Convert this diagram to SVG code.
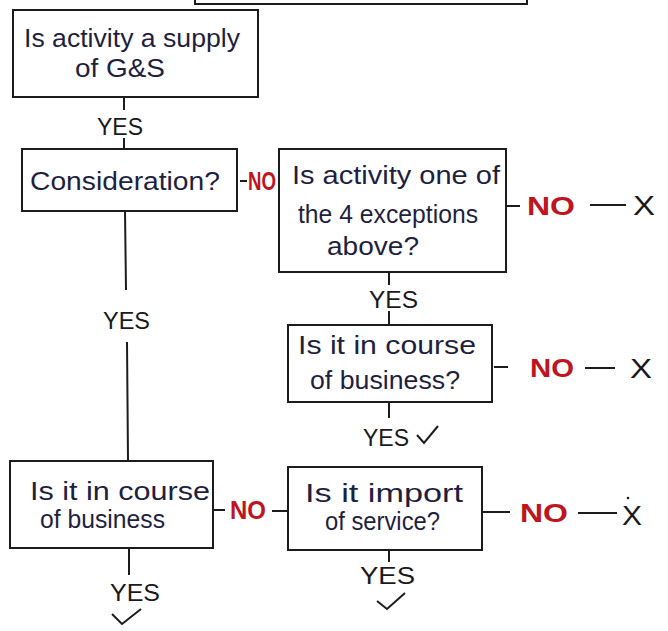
<svg xmlns="http://www.w3.org/2000/svg" width="668" height="631" viewBox="0 0 668 631">
<style>
.box{fill:#fff;stroke:#1c1c1c;stroke-width:2}
.ln{stroke:#1c1c1c;stroke-width:2;fill:none}
.q{font-family:"Liberation Sans",Arial,sans-serif;font-size:26px;fill:#1f1f3f}
.yes{font-family:"Liberation Sans",Arial,sans-serif;font-size:24px;fill:#1a1a1a}
.no{font-family:"Liberation Sans",Arial,sans-serif;font-size:26px;font-weight:bold;fill:#c0141e}
.x{font-family:"Liberation Sans",Arial,sans-serif;font-size:28px;fill:#1a1a1a}
</style>
<rect width="668" height="631" fill="#ffffff"/>
<g id="top-box">
<path class="ln" d="M195,0 L195,4 L527,4 L527,0"/>
</g>
<g id="n1">
<rect class="box" x="13" y="10" width="245" height="87"/>
<text class="q" x="24" y="47" font-size="24" textLength="216" lengthAdjust="spacingAndGlyphs">Is activity a supply</text>
<text class="q" x="75" y="77" font-size="24" textLength="90" lengthAdjust="spacingAndGlyphs">of G&amp;S</text>
</g>
<g id="n2">
<rect class="box" x="22" y="149" width="215" height="62"/>
<text class="q" x="30" y="190" font-size="29" textLength="190" lengthAdjust="spacingAndGlyphs">Consideration?</text>
</g>
<g id="n3">
<rect class="box" x="279" y="149" width="227" height="123"/>
<text class="q" x="292" y="184" textLength="208" lengthAdjust="spacingAndGlyphs">Is activity one of</text>
<text class="q" x="298" y="223" textLength="180" lengthAdjust="spacingAndGlyphs">the 4 exceptions</text>
<text class="q" x="327" y="255" textLength="92" lengthAdjust="spacingAndGlyphs">above?</text>
</g>
<g id="n4">
<rect class="box" x="288" y="325" width="204" height="77"/>
<text class="q" x="298" y="354" textLength="178" lengthAdjust="spacingAndGlyphs">Is it in course</text>
<text class="q" x="310" y="389" textLength="150" lengthAdjust="spacingAndGlyphs">of business?</text>
</g>
<g id="n5">
<rect class="box" x="10" y="461" width="203" height="87"/>
<text class="q" x="30" y="500" textLength="180" lengthAdjust="spacingAndGlyphs">Is it in course</text>
<text class="q" x="40" y="528" textLength="125" lengthAdjust="spacingAndGlyphs">of business</text>
</g>
<g id="n6">
<rect class="box" x="288" y="467" width="194" height="83"/>
<text class="q" x="305" y="502" textLength="158" lengthAdjust="spacingAndGlyphs">Is it import</text>
<text class="q" x="325" y="530" textLength="115" lengthAdjust="spacingAndGlyphs">of service?</text>
</g>
<g id="connectors">
<path class="ln" d="M124,97 L124,110 M124,138 L124,150"/>
<text class="yes" x="97" y="135" textLength="46" lengthAdjust="spacingAndGlyphs">YES</text>
<path class="ln" d="M240,181 L247,181"/>
<text class="no" x="248" y="190" font-size="20" textLength="28" lengthAdjust="spacingAndGlyphs">NO</text>
<path class="ln" d="M125,211 L126,290 M127,342 L128,460"/>
<text class="yes" x="103" y="329" textLength="47" lengthAdjust="spacingAndGlyphs">YES</text>
<path class="ln" d="M507,206 L520,206"/>
<text class="no" x="527" y="215" textLength="48" lengthAdjust="spacingAndGlyphs">NO</text>
<path class="ln" d="M590,205 L626,205"/>
<text class="x" x="633" y="215" textLength="22" lengthAdjust="spacingAndGlyphs">X</text>
<path class="ln" d="M389,272 L389,285 M389,311 L389,325"/>
<text class="yes" x="369" y="308" textLength="49" lengthAdjust="spacingAndGlyphs">YES</text>
<path class="ln" d="M494,367 L508,367"/>
<text class="no" x="530" y="377" textLength="44" lengthAdjust="spacingAndGlyphs">NO</text>
<path class="ln" d="M585,368 L615,368"/>
<text class="x" x="630" y="378" textLength="22" lengthAdjust="spacingAndGlyphs">X</text>
<path class="ln" d="M389,402 L389,418"/>
<text class="yes" x="363" y="446" textLength="46" lengthAdjust="spacingAndGlyphs">YES</text>
<path class="ln" d="M417,435 L424,443 L438,426"/>
<path class="ln" d="M214,510 L225,510"/>
<text class="no" x="230" y="519" font-size="23" textLength="36" lengthAdjust="spacingAndGlyphs">NO</text>
<path class="ln" d="M272,511 L287,511"/>
<path class="ln" d="M483,512 L510,512"/>
<text class="no" x="520" y="522" textLength="48" lengthAdjust="spacingAndGlyphs">NO</text>
<path class="ln" d="M578,513 L617,513"/>
<text class="x" x="622" y="525" textLength="20" lengthAdjust="spacingAndGlyphs">X</text>
<circle cx="628" cy="498" r="1.3" fill="#1a1a1a"/>
<path class="ln" d="M129,548 L129,575"/>
<text class="yes" x="110" y="601" textLength="50" lengthAdjust="spacingAndGlyphs">YES</text>
<path class="ln" d="M112,614 L122,624 L141,609"/>
<path class="ln" d="M389,550 L389,562"/>
<text class="yes" x="360" y="584" textLength="55" lengthAdjust="spacingAndGlyphs">YES</text>
<path class="ln" d="M377,601 L387,609 L405,593"/>
</g>
</svg>
